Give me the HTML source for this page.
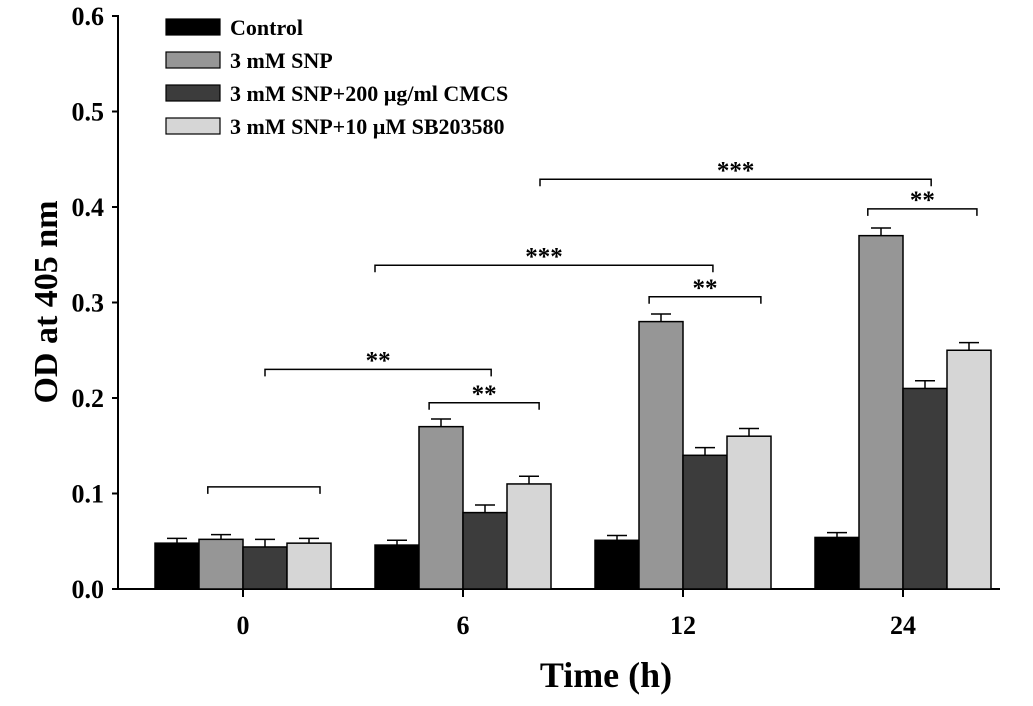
<!DOCTYPE html>
<html><head><meta charset="utf-8"><style>
body{margin:0;background:#fff}
svg text{font-family:"Liberation Serif",serif;font-weight:bold;fill:#000}
</style></head><body>
<svg width="1033" height="701" id="c">
</svg>
<script>
const categories=["0","6","12","24"];
const seriesNames=["Control","3 mM SNP","3 mM SNP+200 \u00b5g/ml CMCS","3 mM SNP+10 \u00b5M SB203580"];
const control=[0.048,0.046,0.051,0.054];
const snp=[0.052,0.170,0.280,0.370];
const cmcs=[0.044,0.080,0.140,0.210];
const sb=[0.048,0.110,0.160,0.250];
const controlErr=[0.005,0.005,0.005,0.005];
const snpErr=[0.005,0.008,0.008,0.008];
const cmcsErr=[0.008,0.008,0.008,0.008];
const sbErr=[0.005,0.008,0.008,0.008];
const yTicks=[0,0.1,0.2,0.3,0.4,0.5,0.6];
const yTickLabels=["0.0","0.1","0.2","0.3","0.4","0.5","0.6"];
const bracketY=[0.107,0.230,0.195,0.339,0.306,0.429,0.398];
const bracketLabels=["","**","**","***","**","***","**"];
const bracketFrom=[[0,-0.8],[0,0.5],[1,-0.77],[1,-2.0],[2,-0.77],[1,1.75],[3,-0.8]];
const bracketTo=[[0,1.75],[1,0.64],[1,1.73],[2,0.68],[2,1.77],[3,0.64],[3,1.68]];

const NS="http://www.w3.org/2000/svg",svg=document.getElementById('c');
const fills=["#000","#969696","#3c3c3c","#d6d6d6"];
const vals=[control,snp,cmcs,sb],errs=[controlErr,snpErr,cmcsErr,sbErr];
const y0=589,pxPer=955,left=118;
const y=v=>y0-v*pxPer;
const gx=g=>243+g*220;
const bw=44;
const bx=(g,s)=>gx(g)-2*bw+s*bw;
function el(t,a,parent){const e=document.createElementNS(NS,t);for(const k in a)e.setAttribute(k,a[k]);(parent||svg).appendChild(e);return e;}
let ax=el('line',{x1:left,y1:y(0.6)-1,x2:left,y2:y0+1,stroke:'#000','stroke-width':2});


let axx=el('line',{x1:left-6,y1:y0,x2:1000,y2:y0,stroke:'#000','stroke-width':2});


yTicks.forEach((t,i)=>{
 el('line',{x1:left-6,y1:y(t),x2:left,y2:y(t),stroke:'#000','stroke-width':2});
 const tx=el('text',{x:left-14,y:y(t)+9,'text-anchor':'end','font-size':26});
 tx.textContent=yTickLabels[i];
 
 
});
categories.forEach((c,g)=>{
 el('line',{x1:gx(g),y1:y0,x2:gx(g),y2:y0+8,stroke:'#000','stroke-width':2});
 const tx=el('text',{x:gx(g),y:y0+45,'text-anchor':'middle','font-size':26});
 tx.textContent=c;
 
 
 vals.forEach((arr,s)=>{
  const v=arr[g],e=errs[s][g],x=bx(g,s);
  const ex=x+bw/2;
  el('line',{x1:ex,y1:y(v),x2:ex,y2:y(v+e),stroke:'#000','stroke-width':1.5});
  el('line',{x1:ex-10,y1:y(v+e),x2:ex+10,y2:y(v+e),stroke:'#000','stroke-width':1.5});
  const r=el('rect',{x:x,y:y(v),width:bw,height:y0-y(v),fill:fills[s],stroke:'#000','stroke-width':1.5});
  
  
 });
});
bracketY.forEach((v,i)=>{
 const xa=gx(bracketFrom[i][0])+bracketFrom[i][1]*bw;
 const xb=gx(bracketTo[i][0])+bracketTo[i][1]*bw;
 const yy=y(v);
 const p=el('path',{d:`M${xa},${yy+7}V${yy}H${xb}V${yy+7}`,fill:'none',stroke:'#000','stroke-width':1.5});
 
 
 if(bracketLabels[i]){
  const t=el('text',{x:(xa+xb)/2,y:yy-1,'text-anchor':'middle','font-size':25});
  t.textContent=bracketLabels[i];
  
  
 }
});
seriesNames.forEach((n,i)=>{
 const yy=19+i*33;
 const r=el('rect',{x:166,y:yy,width:54,height:16,fill:fills[i],stroke:'#000','stroke-width':1.2});
 
 
 const t=el('text',{x:230,y:yy+16,'font-size':22});
 t.textContent=n;
 
 
});
const yt=el('text',{x:0,y:0,'text-anchor':'middle','font-size':34,transform:'translate(57,302) rotate(-90)'});
yt.textContent='OD at 405 nm';


const xt=el('text',{x:606,y:687,'text-anchor':'middle','font-size':36});
xt.textContent='Time (h)';


</script>
</body></html>
